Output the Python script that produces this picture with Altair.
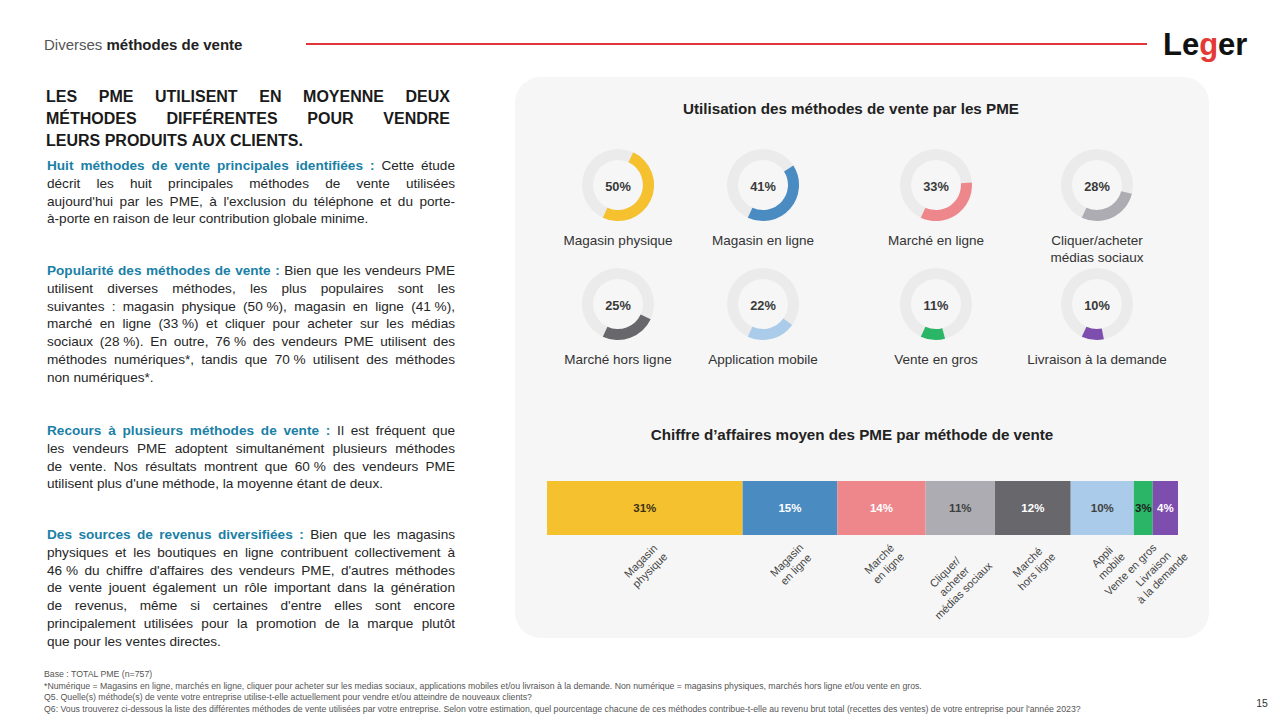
import unicodedata
import numpy as np
import pandas as pd
import altair as alt

FONT = "Liberation Sans"

# ------------------------------------------------------------------ data
usage_methods = ["Magasin physique", "Magasin en ligne", "Marché en ligne",
                 "Cliquer/acheter\nmédias sociaux", "Marché hors ligne",
                 "Application mobile", "Vente en gros", "Livraison à la demande"]
usage_pct = [50, 41, 33, 28, 25, 22, 11, 10]
usage_colors = ["#F6C12E", "#4A8BC2", "#EE878B", "#ACACB2",
                "#68676B", "#AACBE9", "#2BB566", "#7E4EAF"]

revenue_methods = ["Magasin\nphysique", "Magasin\nen ligne", "Marché\nen ligne",
                   "Cliquer/\nacheter\nmédias sociaux", "Marché\nhors ligne",
                   "Appli\nmobile", "Vente en gros", "Livraison\nà la demande"]
revenue_pct = [31, 15, 14, 11, 12, 10, 3, 4]
revenue_colors = ["#F6C12E", "#4A8BC2", "#EE878B", "#ACACB2",
                  "#68676B", "#AACBE9", "#2BB566", "#7E4EAF"]
revenue_text_colors = ["#3B3216", "#FFFFFF", "#FFFFFF", "#3F3F3F",
                       "#FFFFFF", "#3F3F3F", "#1E1E1E", "#FFFFFF"]

title_lines = ["LES PME UTILISENT EN MOYENNE DEUX",
               "MÉTHODES DIFFÉRENTES POUR VENDRE",
               "LEURS PRODUITS AUX CLIENTS."]
NB = "\u00a0"
paragraphs = [
    (7, ["Huit méthodes de vente principales identifiées : Cette étude",
         "décrit les huit principales méthodes de vente utilisées",
         "aujourd'hui par les PME, à l'exclusion du téléphone et du porte-",
         "à-porte en raison de leur contribution globale minime."]),
    (6, ["Popularité des méthodes de vente : Bien que les vendeurs PME",
         "utilisent diverses méthodes, les plus populaires sont les",
         f"suivantes : magasin physique (50{NB}%), magasin en ligne (41{NB}%),",
         f"marché en ligne (33{NB}%) et cliquer pour acheter sur les médias",
         f"sociaux (28{NB}%). En outre, 76{NB}% des vendeurs PME utilisent des",
         f"méthodes numériques*, tandis que 70{NB}% utilisent des méthodes",
         "non numériques*."]),
    (7, ["Recours à plusieurs méthodes de vente : Il est fréquent que",
         "les vendeurs PME adoptent simultanément plusieurs méthodes",
         f"de vente. Nos résultats montrent que 60{NB}% des vendeurs PME",
         "utilisent plus d'une méthode, la moyenne étant de deux."]),
    (6, ["Des sources de revenus diversifiées : Bien que les magasins",
         "physiques et les boutiques en ligne contribuent collectivement à",
         f"46{NB}% du chiffre d'affaires des vendeurs PME, d'autres méthodes",
         "de vente jouent également un rôle important dans la génération",
         "de revenus, même si certaines d'entre elles sont encore",
         "principalement utilisées pour la promotion de la marque plutôt",
         "que pour les ventes directes."]),
]
footer_lines = [
    "Base : TOTAL PME (n=757)",
    "*Numérique =  Magasins en ligne, marchés en ligne, cliquer pour acheter sur les medias sociaux, applications mobiles et/ou livraison à la demande. Non numérique = magasins physiques, marchés hors ligne et/ou vente en gros.",
    "Q5. Quelle(s) méthode(s) de vente votre entreprise utilise-t-elle actuellement pour vendre et/ou atteindre de nouveaux clients?",
    "Q6: Vous trouverez ci-dessous la liste des différentes méthodes de vente utilisées par votre entreprise. Selon votre estimation, quel pourcentage chacune de ces méthodes contribue-t-elle au revenu brut total (recettes des ventes) de votre entreprise pour l'année 2023?",
]
chart_title_1 = "Utilisation des méthodes de vente par les PME"
chart_title_2 = "Chiffre d’affaires moyen des PME par méthode de vente"
header_light = "Diverses"
header_bold = "méthodes de vente"
page_number = "15"

# ------------------------------------------------------------------ text metrics (Arial / Liberation Sans)
_lo = "abcdefghijklmnopqrstuvwxyz"
_up = "ABCDEFGHIJKLMNOPQRSTUVWXYZ"
REG = dict(zip(_lo, [556,556,500,556,556,278,556,556,222,222,500,222,833,556,556,556,556,333,500,278,556,500,722,500,500,500]))
REG.update(zip(_up, [667,667,722,722,667,611,778,722,278,500,667,556,833,722,778,667,778,722,667,611,722,667,944,667,667,611]))
BLD = dict(zip(_lo, [556,611,556,611,556,333,611,611,278,278,556,278,889,611,611,611,611,389,556,333,611,556,778,556,556,500]))
BLD.update(zip(_up, [722,722,722,722,667,611,778,722,278,556,722,611,833,722,778,667,778,722,667,611,722,667,944,667,667,611]))
for d in (REG, BLD):
    d.update({str(i): 556 for i in range(10)})
REG.update({" ": 278, NB: 278, ".": 278, ",": 278, ":": 278, ";": 278, "!": 278, "?": 556, "'": 191,
            "’": 222, "(": 333, ")": 333, "-": 333, "/": 278, "%": 889, "*": 389, "=": 584})
BLD.update({" ": 278, NB: 278, ".": 278, ",": 278, ":": 333, ";": 333, "!": 333, "?": 611, "'": 238,
            "’": 278, "(": 333, ")": 333, "-": 333, "/": 278, "%": 889, "*": 389, "=": 584})


def tw(s, bold, size):
    t = BLD if bold else REG
    tot = 0
    for c in s:
        if c not in t:
            c = unicodedata.normalize("NFD", c)[0]
        tot += t.get(c, 556)
    return tot * size / 1000.0


STYLES = {
    # name: (size, bold, color)
    "title": (16, True, "#1A1A1A"),
    "lead": (13.6, True, "#1A80A6"),
    "body": (13.6, False, "#262626"),
    "hdr_l": (15, False, "#555555"),
    "hdr_b": (15, True, "#222222"),
}


def justify(lines, n_lead, x0, x1, y0, lh, lead_style, body_style):
    recs = []
    left = n_lead
    for i, line in enumerate(lines):
        words = line.split(" ")
        sts = []
        for w in words:
            if left > 0:
                sts.append(lead_style)
                left -= 1
            else:
                sts.append(body_style)
        wid = [tw(w, STYLES[s][1], STYLES[s][0]) for w, s in zip(words, sts)]
        if i == len(lines) - 1 or len(words) == 1:
            gap = tw(" ", False, STYLES[body_style][0])
        else:
            gap = (x1 - x0 - sum(wid)) / (len(words) - 1)
        x = x0
        for w, s, wd in zip(words, sts, wid):
            recs.append({"text": w, "x": x, "y": y0 + i * lh, "style": s})
            x += wd + gap
    return recs


# ------------------------------------------------------------------ layout helpers
W, H = 1264, 704
PX = alt.Scale(domain=[8, 8 + W], range=[0, W], nice=False, zero=False)
PY = alt.Scale(domain=[8, 8 + H], range=[0, H], nice=False, zero=False)


def v(p):
    return p - 8


def text_layer(df, size, bold, color, align="left", baseline="middle", **kw):
    return alt.Chart(df).mark_text(
        font=FONT, fontSize=size, fontWeight="bold" if bold else "normal",
        color=color, align=align, baseline=baseline, **kw
    ).encode(
        x=alt.X("x:Q", scale=PX, axis=None),
        y=alt.Y("y:Q", scale=PY, axis=None),
        text="text:N",
    )


layers = []

# background panel
one = pd.DataFrame({"a": [0]})
layers.append(alt.Chart(one).mark_rect(color="#F6F6F6", cornerRadius=26).encode(
    x=alt.value(v(515)), x2=alt.value(v(1209)), y=alt.value(v(77)), y2=alt.value(v(638))))
# header red rule
layers.append(alt.Chart(one).mark_rule(color="#E2353B", strokeWidth=2).encode(
    x=alt.value(v(306)), x2=alt.value(v(1147)), y=alt.value(v(44))))

# words (header, title, paragraphs)
recs = []
recs.append({"text": header_light, "x": 44, "y": 45, "style": "hdr_l"})
recs.append({"text": header_bold, "x": 44 + tw(header_light + " ", False, 15), "y": 45, "style": "hdr_b"})
recs += justify(title_lines, len(" ".join(title_lines).split(" ")), 46, 450, 97, 22, "title", "title")
para_y = [166, 271, 431, 535]
for (nl, lines), y0 in zip(paragraphs, para_y):
    recs += justify(lines, nl, 47, 455, y0, 17.75, "lead", "body")
words = pd.DataFrame(recs)
for st, (sz, b, col) in STYLES.items():
    sub = words[words["style"] == st]
    if len(sub):
        layers.append(text_layer(sub, sz, b, col))

# logo
lx = 1163
logo = pd.DataFrame([
    {"text": "Le", "x": lx, "y": 55, "c": "#111111"},
    {"text": "g", "x": lx + tw("Le", True, 31), "y": 55, "c": "#E53935"},
    {"text": "er", "x": lx + tw("Leg", True, 31), "y": 55, "c": "#111111"},
])
layers.append(alt.Chart(logo).mark_text(font=FONT, fontSize=31, fontWeight="bold", align="left",
                                         baseline="alphabetic").encode(
    x=alt.X("x:Q", scale=PX, axis=None), y=alt.Y("y:Q", scale=PY, axis=None),
    text="text:N", color=alt.Color("c:N", scale=None)))

# footer
foot_size = 1038 * 1000 / (tw(footer_lines[3], False, 1000))
foot = pd.DataFrame({"text": footer_lines, "x": 44, "y": [674, 685.5, 697, 708.5]})
layers.append(text_layer(foot, round(foot_size, 2), False, "#555555"))
layers.append(text_layer(pd.DataFrame({"text": [page_number], "x": [1262], "y": [704]}),
                         10.5, False, "#333333", align="center"))

# chart titles
ct = pd.DataFrame({"text": [chart_title_1, chart_title_2], "x": [851, 852], "y": [109, 435]})
layers.append(text_layer(ct, 15.2, True, "#222222", align="center"))

# ------------------------------------------------------------------ donuts
col_x = [618, 763, 936, 1097]
row_y = [185, 304]
END = 205 / 360 * 100  # arcs end at ~7 o'clock
don = pd.DataFrame({"name": usage_methods, "pct": usage_pct, "color": usage_colors})
don["cx"] = [col_x[i % 4] for i in range(len(don))]
don["cy"] = [row_y[i // 4] for i in range(len(don))]
don["t0"] = END - don["pct"]
don["t1"] = END
TH = alt.Scale(domain=[0, 100], range=[0, 2 * np.pi], nice=False, zero=False)

layers.append(alt.Chart(don).mark_arc(innerRadius=25, outerRadius=36, color="#EBEBEB").encode(
    x=alt.X("cx:Q", scale=PX, axis=None), y=alt.Y("cy:Q", scale=PY, axis=None),
    theta=alt.value(0), theta2=alt.value(2 * np.pi)))
layers.append(alt.Chart(don).mark_arc(innerRadius=25, outerRadius=36).encode(
    x=alt.X("cx:Q", scale=PX, axis=None), y=alt.Y("cy:Q", scale=PY, axis=None),
    theta=alt.Theta("t0:Q", scale=TH, stack=None), theta2="t1:Q",
    color=alt.Color("color:N", scale=None)))

dp = pd.DataFrame({"text": [f"{p}%" for p in usage_pct], "x": don["cx"], "y": don["cy"] + 2})
layers.append(text_layer(dp, 12.8, True, "#3A3A3A", align="center"))
dl = pd.DataFrame({"text": usage_methods, "x": don["cx"], "y": don["cy"] + 48.5})
layers.append(text_layer(dl, 13.5, False, "#333333", align="center", baseline="top",
                         lineBreak="\n", lineHeight=17))

# ------------------------------------------------------------------ stacked revenue bar
BX0, BX1 = 547, 1178
rev = pd.DataFrame({"idx": range(len(revenue_pct)), "pct": revenue_pct, "color": revenue_colors,
                    "tcolor": revenue_text_colors, "name": revenue_methods})
BS = alt.Scale(domain=[0, 100], range=[v(BX0), v(BX1)], nice=False, zero=False)
base = alt.Chart(rev).transform_window(
    cum="sum(pct)", sort=[alt.SortField("idx")]
).transform_calculate(x0="datum.cum - datum.pct", mid="datum.cum - datum.pct / 2",
                      lab="datum.pct + '%'")
layers.append(base.mark_rect().encode(
    x=alt.X("x0:Q", scale=BS, axis=None), x2="cum:Q",
    y=alt.value(v(481)), y2=alt.value(v(535)),
    color=alt.Color("color:N", scale=None)))
layers.append(base.mark_text(font=FONT, fontSize=11.5, fontWeight="bold", align="center",
                             baseline="middle").encode(
    x=alt.X("mid:Q", scale=BS, axis=None), y=alt.value(v(509)),
    text="lab:N", color=alt.Color("tcolor:N", scale=None)))

# rotated category labels
mids = np.cumsum(revenue_pct) - np.array(revenue_pct) / 2
px_per = (BX1 - BX0) / 100
lab_rows = []
k = np.sqrt(0.5)
for name, m in zip(revenue_methods, mids):
    wmax = max(tw(s, False, 11) for s in name.split("\n"))
    tx = BX0 + m * px_per + 12
    ty = 546
    lab_rows.append({"text": name, "x": tx - k * wmax / 2, "y": ty + k * wmax / 2})
layers.append(text_layer(pd.DataFrame(lab_rows), 11, False, "#444444", align="center",
                         baseline="middle", angle=315, lineBreak="\n", lineHeight=13))

chart = alt.layer(*layers).resolve_scale(x="independent", y="independent").properties(
    width=W, height=H, padding=0, background="white"
).configure_view(stroke=None)

chart.save("out.html", embed_options={"renderer": "svg", "actions": False})
